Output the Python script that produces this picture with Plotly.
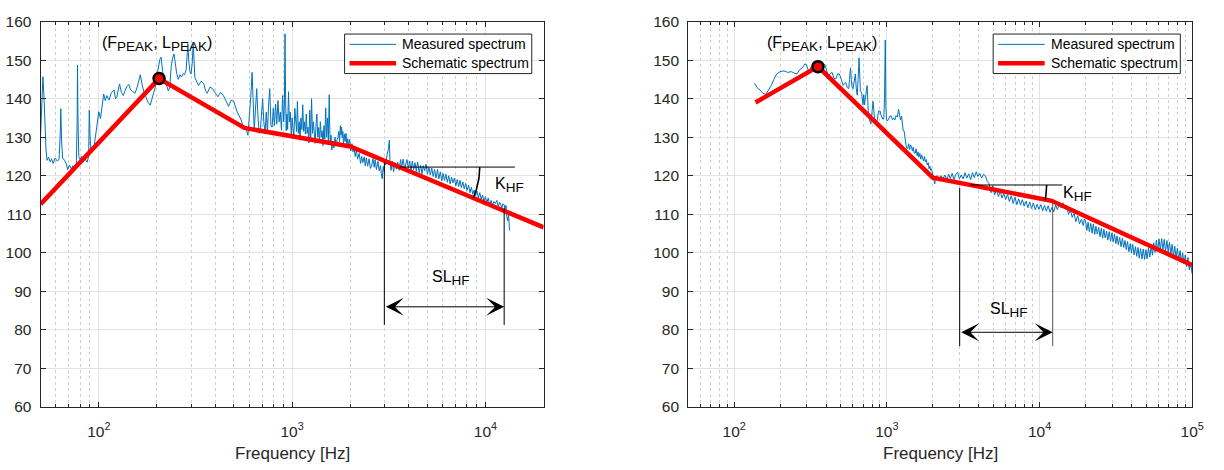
import numpy as np
import plotly.graph_objects as go

# ---------------- data ----------------
# Left panel: measured spectrum (Hz, dB)
left_meas_f = [50, 51, 51.4, 52, 52.6, 53.3, 54, 55, 56, 57, 58, 59.5, 61, 62.3, 63.2, 63.6, 64.2, 65, 66.5, 68,
               69, 70.5, 72, 73.5, 75, 76.5, 77.3, 77.6, 78, 78.8, 80, 81.5, 83, 85, 87, 88.6, 89.3, 90, 91, 92.5,
               94, 96, 98, 100, 102, 104, 106, 108, 110, 113, 116, 120, 122, 124, 126, 128, 131, 134, 137, 140,
               143, 146, 150, 154, 158, 161, 164, 167, 170.6, 175, 180, 184.5, 188, 192, 196, 200, 203, 207, 210, 214,
               218, 222, 225, 229, 233, 237, 241, 245, 249, 253, 258, 263, 268, 273, 278, 283, 287, 289, 292, 296,
               300, 304, 308, 311, 314, 320, 328, 338, 349, 356, 364, 376, 388, 400, 413, 426, 440, 455, 469, 484,
               499, 520, 543, 555, 567, 580, 591, 597, 604, 612, 621, 629, 637, 646, 656, 665, 675, 684, 694, 704,
               714, 725, 735, 745, 755, 766, 777, 788, 799, 810, 821, 833, 845, 857, 869, 881, 893, 905, 912, 919,
               925, 932, 940, 948, 958, 968, 979, 990, 1000, 1010, 1021, 1033, 1045, 1055, 1065, 1077, 1088, 1100, 1111, 1123,
               1135, 1147, 1159, 1172, 1184, 1196, 1208, 1221, 1234, 1248, 1261, 1274, 1288, 1301, 1315, 1329, 1343, 1357, 1371, 1385,
               1400, 1415, 1430, 1445, 1461, 1476, 1492, 1508, 1524, 1540, 1556, 1566, 1576, 1590, 1605, 1623, 1645, 1667, 1690, 1710,
               1729, 1745, 1760, 1777, 1790, 1803, 1818, 1830, 1845, 1865, 1880, 1900, 1920, 1940, 1962, 1985, 2010, 2040, 2065, 2090,
               2120, 2150, 2180, 2225, 2260, 2290, 2321, 2360, 2390, 2421, 2460, 2500, 2540, 2577, 2620, 2660, 2690, 2730, 2780, 2820,
               2865, 2895, 2926, 2960, 3000, 3020, 3051, 3100, 3150, 3183, 3210, 3250, 3300, 3350, 3400, 3462, 3520, 3580, 3640, 3687,
               3750, 3820, 3880, 3929, 3990, 4060, 4120, 4186, 4250, 4320, 4390, 4460, 4540, 4620, 4700, 4770, 4851, 4930, 5010, 5100,
               5190, 5277, 5370, 5460, 5550, 5650, 5740, 5840, 5940, 6040, 6140, 6244, 6350, 6460, 6570, 6680, 6792, 6910, 7030, 7150,
               7270, 7388, 7510, 7640, 7770, 7900, 8036, 8180, 8320, 8460, 8600, 8741, 8890, 9040, 9200, 9350, 9509, 9670, 9840, 10000,
               10170, 10343, 10520, 10700, 10880, 11060, 11251, 11450, 11650, 11850, 11986, 12150, 12300, 12500, 12640, 12770, 12900, 13040, 13180, 13320]
left_meas_db = [130.5, 140, 145.7, 141, 134, 127, 124, 124.8, 123.6, 124.4, 123.2, 124.6, 123.8, 124.3, 131, 137.4, 129, 124.6, 124, 123,
                121.6, 122.8, 121.8, 122.6, 121.4, 122.2, 135, 148.7, 136, 125, 124.2, 125, 123.6, 124.4, 123.5, 125, 137, 131, 126.5, 127.5,
                126.8, 130, 133, 136.6, 134.8, 138, 141.2, 139.5, 140.8, 139.6, 141.5, 142.2, 140, 140.5, 141.8, 143.8, 141.6, 140.8, 142.2, 143.2,
                143.7, 142.3, 141.8, 141.4, 143, 144.5, 146.2, 144, 142, 140.5, 139, 138.3, 139.8, 141.5, 143, 146, 148, 150.2, 150.75, 147,
                145.4, 144, 143, 142, 143, 148.5, 150.5, 151.6, 149, 146.5, 145, 146.2, 145.6, 146.5, 146.2, 147.5, 152, 154.3, 150, 147,
                146.4, 149, 154.3, 149, 145.5, 144.6, 143.4, 144.5, 143.9, 142.2, 141.4, 143, 142.6, 141.5, 140.5, 141.6, 140.9, 139.4, 138, 139.6,
                139.3, 136.5, 134.7, 133.2, 132.6, 131.8, 130.5, 133, 136, 141, 146.8, 138, 131.7, 137, 142.6, 136, 131, 131.3, 135.5, 140,
                134, 131, 136.5, 131, 138, 142.6, 133, 132.6, 137.5, 133, 138.6, 133.4, 139.5, 134, 136.5, 131.8, 140.8, 134, 138, 156.8,
                141, 131.7, 136, 132, 141.8, 134, 136.5, 130.3, 135, 131, 130, 137.5, 133, 131.5, 139.3, 131, 134, 129.2, 135, 132,
                138.4, 131.5, 134, 130.8, 136, 131, 132.6, 128.5, 137, 130, 140, 131, 134, 129.4, 128.4, 133, 136, 130, 132.5, 129,
                134, 130, 131.7, 127.8, 133, 129.5, 137.6, 130, 135, 129, 141, 132, 128, 130.5, 126.7, 129, 127.2, 130, 127.8, 129.4,
                130, 131.5, 128.8, 133, 130.6, 132.6, 129.8, 131.5, 128.4, 130.8, 128.9, 131, 127.6, 129.6, 127.8, 129.4, 126.4, 128.3, 126.2, 127.4,
                125, 126.8, 124.3, 125.8, 123.2, 125, 123.4, 124.9, 122.6, 124.6, 122.5, 124.4, 121.9, 122.5, 124.5, 122.2, 124.2, 121.6, 123.7, 121.3,
                122.6, 120.5, 119.2, 122.4, 121, 124, 122.8, 125.5, 127, 129.2, 123.6, 121.4, 123.8, 121, 123.4, 121.7, 123.5, 121.4, 124.2, 122.3,
                124.3, 121.9, 123.6, 124.2, 122, 123.8, 121.2, 123.8, 121.6, 123.4, 121.1, 123.6, 120.8, 122.7, 120.5, 122.6, 121.3, 123, 120.4, 122.2,
                120.2, 122, 119.8, 121.6, 119.4, 121.6, 119.2, 121, 118.7, 120.6, 118.8, 120.4, 118.3, 120, 117.9, 119.6, 118.2, 119.4, 117.4, 119,
                117.2, 118.8, 116.9, 118.4, 116.6, 118, 116.2, 117.6, 115.6, 117, 115.2, 116.3, 114.8, 116, 114.2, 115.6, 113.9, 115, 113.3, 114.6,
                113, 114.2, 112.4, 113.6, 112.2, 113.3, 112.8, 113.6, 112.1, 113.1, 112.6, 111.5, 112.7, 112.5, 110.6, 112.3, 109.5, 108.3, 110, 105.8]

# Left panel: schematic spectrum
left_sch_f = [50, 205, 567, 2000, 20000]
left_sch_db = [112.6, 145.2, 132.4, 127.6, 106.6]
left_peak_f, left_peak_db = [205], [145.2]

# Right panel: measured spectrum
right_meas_f = [136, 142, 148, 154, 161, 168, 175, 182, 190, 200, 212, 224, 237, 248, 258, 269, 280, 290, 297, 304,
                310, 320, 331, 340, 350, 360, 370, 381, 392, 403, 414, 426, 438, 450, 463, 476, 489, 503, 518, 528,
                538, 550, 563, 570, 578, 585, 592, 601, 611, 622, 631, 640, 648, 654, 658, 662, 671, 684, 698, 706,
                715, 728, 743, 755, 770, 786, 800, 812, 822, 830, 846, 863, 883, 903, 920, 940, 955, 966, 973, 977,
                981, 986, 995, 1010, 1030, 1049, 1068, 1090, 1111, 1129, 1150, 1172, 1194, 1210, 1228, 1248, 1265, 1280, 1297, 1315,
                1335, 1352, 1372, 1390, 1410, 1430, 1450, 1470, 1490, 1510, 1534, 1555, 1580, 1600, 1622, 1645, 1668, 1690, 1715, 1740,
                1763, 1790, 1813, 1840, 1870, 1890, 1916, 1940, 1960, 1991, 2020, 2060, 2090, 2142, 2200, 2260, 2329, 2400, 2470, 2540,
                2603, 2680, 2750, 2830, 2908, 2990, 3070, 3163, 3250, 3340, 3439, 3540, 3640, 3740, 3850, 3950, 4066, 4180, 4300, 4421,
                4550, 4680, 4806, 4940, 5080, 5230, 5380, 5530, 5680, 5840, 6000, 6170, 6350, 6530, 6720, 6910, 7100, 7300, 7510, 7720,
                7930, 8160, 8390, 8630, 8870, 9120, 9380, 9650, 9910, 10200, 10490, 10780, 11080, 11390, 11720, 12050, 12390, 12740, 13100, 13470,
                13840, 14230, 14630, 15050, 15480, 15920, 16370, 16830, 17300, 17790, 18290, 18810, 19340, 19650,
                20000, 20400, 20800, 21200, 21650, 22100, 22500, 23000, 23400, 23900, 24400, 24900, 25400, 25900, 26400, 26900,
                27500, 28000, 28600, 29200, 29800, 30400, 31000, 31600, 32200, 32800, 33500, 34200, 34900, 35600, 36300, 37000,
                37700, 38500, 39300, 40000, 40800, 41600, 42500, 43300, 44200, 45000, 45900, 46900, 47800, 48800, 49700, 50700,
                51700, 52800, 53800, 54900, 56000, 57100, 58300, 59400, 60600, 61800, 63100, 64300, 65600, 66900, 68300, 69600,
                71000, 72500, 73900, 75400, 76900, 78400, 80000, 81600, 83300, 84900, 86600, 88400, 90100, 91900, 93800, 95700,
                97600, 100000]
right_meas_db = [144, 142.8, 142.2, 141.4, 141.1, 142.2, 143.4, 145, 146.4, 147, 147.2, 146.8, 147, 146.6, 146.4, 147.5, 148, 149, 148.9, 147.6,
                 147.2, 148.3, 148.6, 148.2, 148, 147.4, 147.2, 148.4, 148.9, 147.4, 146, 146.5, 146.8, 145.3, 145.1, 146.4, 146.4, 145, 143.4, 144,
                 144.2, 142.9, 142.6, 145, 148, 145, 143, 142.6, 144.5, 146.4, 142.5, 140.9, 145, 149, 150.6, 148, 142, 141.5, 138.4, 141,
                 138.4, 141, 143.4, 137, 134.5, 133.4, 136, 139.3, 137, 135, 134.2, 134.2, 136.8, 136.8, 135.5, 134.7, 134.7, 140, 150, 155.2,
                 148, 138, 134.5, 134.2, 135, 135.5, 135.5, 134.5, 135, 134.5, 135.6, 135.2, 137.2, 136, 134.5, 135.5, 133.5, 131.7, 131.7, 129.5,
                 128, 127.1, 127.1, 128.3, 126.8, 128, 127.6, 126.4, 127.4, 125.9, 125.9, 127, 125.2, 126.2, 124.8, 125.8, 124.3, 125.4, 124.6, 123.8,
                 125, 123.6, 124.2, 122.8, 123.4, 121.8, 122.5, 121.4, 121.8, 120.9, 119.5, 117.9, 119.8, 120, 118.6, 120, 119.2, 120.2, 118.8, 120.4,
                 119.3, 120.6, 119, 120.4, 120.9, 119.2, 120.2, 119.2, 120.8, 119.4, 120.5, 119, 120.8, 119.5, 121, 119.8, 120.6, 119.4, 120.4, 120,
                 118.5, 117.9, 115.6, 117.4, 115, 116.4, 114.6, 116, 114.2, 115.4, 113.8, 115.2, 113.3, 114.8, 112.8, 114.4, 112.5, 114, 112.4, 113.8,
                 112.1, 113.4, 111.7, 113.2, 111.5, 112.9, 111.2, 112.6, 111.3, 112.5, 110.9, 112.3, 110.8, 112.2, 110.5, 111.8, 110.6, 112.4, 111.2, 112.8,
                 111.7, 113, 111.4, 112.3, 110, 111.2, 109.2, 110.2, 108.1, 109.6, 107.5, 108.7, 107.1, 108.8,
                 108.3, 105.8, 107.9, 105.5, 107.6, 105.1, 107.5, 104.8, 106.9, 104.9, 106.6, 104.2, 106.4, 103.8, 106.1, 103.9,
                 105.6, 103.3, 105.5, 103.0, 105.2, 102.8, 104.9, 102.4, 104.4, 102.1, 104.0, 101.6, 103.8, 101.4, 103.2, 100.8,
                 102.9, 100.3, 102.4, 99.9, 102.2, 99.5, 101.6, 99.1, 101.4, 98.6, 101.1, 98.4, 101.0, 98.3, 100.8, 98.5,
                 101.3, 98.9, 101.9, 99.4, 102.6, 100.1, 103.3, 100.6, 103.6, 100.9, 103.7, 100.8, 103.5, 100.5, 103.2, 100.1,
                 102.7, 99.7, 102.2, 99.2, 101.7, 98.6, 101.2, 98.1, 100.6, 97.6, 100.0, 97.1, 99.5, 96.4, 98.8, 95.6,
                 97.5, 94.5]

# Right panel: schematic spectrum
right_sch_f = [138, 354, 2000, 12000, 100000]
right_sch_db = [139.0, 148.3, 119.5, 113.5, 96.8]
right_peak_f, right_peak_db = [354], [148.3]

# Annotation geometry
left_khf_y, left_khf_end = 122.25, 14200
left_sl_f = [3000, 12500]
left_sl_top = [123.5, 111.5]
left_sl_bottom = 81.3
left_arrow_y = 86

right_khf_y, right_khf_end = 117.6, 14100
right_sl_f = [3000, 12200]
right_sl_top = [116.9, 113.3]
right_sl_bottom = 75.8
right_arrow_y = 79.4

legend_labels = ["Measured spectrum", "Schematic spectrum"]

y_ticks = list(range(60, 161, 10))
x_tick_vals = [100, 1000, 10000, 100000]
x_tick_text = ["10<sup>2</sup>", "10<sup>3</sup>", "10<sup>4</sup>", "10<sup>5</sup>"]

# ---------------- layout geometry ----------------
W, H = 1224, 470
L_PX = (41, 549)
R_PX = (695, 1204)
TOP, BOT = 13, 413
left_xr = (50, 20000)
right_xr = (50, 100000)

FONT = "Liberation Sans, Arial, Helvetica, sans-serif"
AXC = "#262626"
BLUE = "#0072BD"
RED = "#FF0000"
TICK_SIZE = 15.5

fig = go.Figure()
shapes = []
ann = []


def minor_vals(lo, hi):
    out = []
    for d in range(1, 6):
        for k in range(2, 10):
            v = k * 10 ** d
            if lo <= v <= hi:
                out.append(v)
    return out


def add_panel(xa, ya, meas_f, meas_db, sch_f, sch_db, pk_f, pk_db):
    fig.add_trace(go.Scatter(x=meas_f, y=meas_db, mode="lines", name=legend_labels[0], showlegend=False,
                             line=dict(color=BLUE, width=1), xaxis=xa, yaxis=ya))
    fig.add_trace(go.Scatter(x=sch_f, y=sch_db, mode="lines", name=legend_labels[1], showlegend=False,
                             line=dict(color=RED, width=4.5), xaxis=xa, yaxis=ya))
    fig.add_trace(go.Scatter(x=pk_f, y=pk_db, mode="markers", showlegend=False,
                             marker=dict(size=11, color=RED, line=dict(color="black", width=2.5)),
                             xaxis=xa, yaxis=ya))


def black_line(xa, ya, xs, ys, color="black", width=1):
    fig.add_trace(go.Scatter(x=xs, y=ys, mode="lines", showlegend=False, hoverinfo="skip",
                             line=dict(color=color, width=width), xaxis=xa, yaxis=ya))


def seg_slope(fs, ds, f):
    lf = np.log10(fs)
    i = np.searchsorted(lf, np.log10(f)) - 1
    return (ds[i + 1] - ds[i]) / (lf[i + 1] - lf[i]), lf[i], ds[i]


def khf(xa, ya, sch_f, sch_db, y_h, f_end, xr, px_w, r_px):
    slope, l0, d0 = seg_slope(sch_f, sch_db, f_end / 4)
    lc = l0 + (y_h - d0) / slope
    black_line(xa, ya, [10 ** lc, f_end], [y_h, y_h])
    px_dec = px_w / (np.log10(xr[1]) - np.log10(xr[0]))
    px_db = (BOT - TOP) / 100.0
    ang = np.arctan(-slope * px_db / px_dec)
    t = np.linspace(0, ang, 30)
    lx = lc + r_px * np.cos(t) / px_dec
    yy = y_h - r_px * np.sin(t) / px_db
    black_line(xa, ya, 10 ** lx, yy, width=1.6)


def legend_box(x0):
    shapes.append(dict(type="rect", xref="paper", yref="paper", x0=x0 / W, x1=(x0 + 189) / W,
                       y0=(H - 67) / H, y1=(H - 26) / H, line=dict(color=AXC, width=1), fillcolor="white",
                       layer="above"))
    for yy, col, wd, txt in [(36.7, BLUE, 1, legend_labels[0]), (56.3, RED, 4.7, legend_labels[1])]:
        shapes.append(dict(type="line", xref="paper", yref="paper", x0=(x0 + 5) / W, x1=(x0 + 52) / W,
                           y0=(H - yy) / H, y1=(H - yy) / H, line=dict(color=col, width=wd), layer="above"))
        ann.append(dict(x=(x0 + 56) / W, y=(H - yy) / H, xref="paper", yref="paper", text=txt,
                        showarrow=False, xanchor="left", yanchor="middle",
                        font=dict(family=FONT, size=14, color="black")))


add_panel("x", "y", left_meas_f, left_meas_db, left_sch_f, left_sch_db, left_peak_f, left_peak_db)
add_panel("x2", "y2", right_meas_f, right_meas_db, right_sch_f, right_sch_db, right_peak_f, right_peak_db)

khf("x", "y", left_sch_f, left_sch_db, left_khf_y, left_khf_end, left_xr, L_PX[1] - L_PX[0], 81)
khf("x2", "y2", right_sch_f, right_sch_db, right_khf_y, right_khf_end, right_xr, R_PX[1] - R_PX[0], 77)

for f, t in zip(left_sl_f, left_sl_top):
    black_line("x", "y", [f, f], [t, left_sl_bottom])
for f, t, c in zip(right_sl_f, right_sl_top, ["black", "#555555"]):
    black_line("x2", "y2", [f, f], [t, right_sl_bottom], c)


def arrow(xref, yref, f0, f1, y):
    ann.append(dict(x=np.log10(f1), y=y, ax=np.log10(f0), ay=y, xref=xref, yref=yref, axref=xref, ayref=yref,
                    text="", showarrow=True, arrowhead=3, startarrowhead=3, arrowside="end+start",
                    arrowsize=3, startarrowsize=3, arrowwidth=1, arrowcolor="black",
                    standoff=0, startstandoff=0))


def sub(main, s):
    return main + "<sub><span style='font-size:13.5px'>" + s + "</span></sub>"


def label(xref, yref, f, y, text, size=16):
    ann.append(dict(x=np.log10(f), y=y, xref=xref, yref=yref, text=text, showarrow=False,
                    font=dict(family=FONT, size=size, color="black"), xanchor="center", yanchor="middle"))


arrow("x", "y", left_sl_f[0], left_sl_f[1], left_arrow_y)
arrow("x2", "y2", right_sl_f[0], right_sl_f[1], right_arrow_y)

peak_txt = "(" + sub("F", "PEAK") + ", " + sub("L", "PEAK") + ")"
label("x", "y", 201, 154.2, peak_txt)
label("x2", "y2", 374, 154.2, peak_txt)
label("x", "y", 13300, 117.6, sub("K", "HF"))
label("x2", "y2", 17700, 115.2, sub("K", "HF"))
label("x", "y", 6650, 93.5, sub("SL", "HF"))
label("x2", "y2", 6350, 85.2, sub("SL", "HF"))

legend_box(348)
legend_box(1003)

for px in (L_PX, R_PX):
    ann.append(dict(x=(px[0] + px[1]) / 2 / W, y=(H - 461) / H, xref="paper", yref="paper",
                    text="Frequency [Hz]", showarrow=False, xanchor="center", yanchor="middle",
                    font=dict(family=FONT, size=17, color=AXC)))


def xaxis_cfg(px, xr, anchor):
    return dict(type="log", domain=[px[0] / W, px[1] / W], range=[np.log10(xr[0]), np.log10(xr[1])],
                anchor=anchor, showline=True, linecolor=AXC, linewidth=1, mirror="ticks",
                ticks="inside", ticklen=5, tickcolor=AXC, tickmode="array",
                tickvals=[v for v in x_tick_vals if xr[0] <= v <= xr[1]],
                ticktext=[t for v, t in zip(x_tick_vals, x_tick_text) if xr[0] <= v <= xr[1]],
                tickfont=dict(family=FONT, size=TICK_SIZE, color=AXC), ticklabelstandoff=10,
                showgrid=True, gridcolor="#e3e3e3", gridwidth=1, zeroline=False,
                minor=dict(tickmode="array", tickvals=minor_vals(xr[0], xr[1]), ticks="inside", ticklen=3,
                           tickcolor=AXC, showgrid=True, gridcolor="#d0d0d0", griddash="dot", gridwidth=1))


def yaxis_cfg(anchor):
    return dict(domain=[(H - BOT) / H, (H - TOP) / H], range=[60, 160], anchor=anchor,
                showline=True, linecolor=AXC, linewidth=1, mirror="ticks", ticks="inside", ticklen=5,
                tickcolor=AXC, tickmode="array", tickvals=y_ticks,
                tickfont=dict(family=FONT, size=TICK_SIZE, color=AXC), ticklabelstandoff=5,
                showgrid=True, gridcolor="#e3e3e3", gridwidth=1, zeroline=False)


fig.update_layout(
    width=W, height=H, autosize=False,
    margin=dict(l=0, r=0, t=0, b=0),
    paper_bgcolor="white", plot_bgcolor="white",
    font=dict(family=FONT, color=AXC),
    xaxis=xaxis_cfg(L_PX, left_xr, "y"),
    yaxis=yaxis_cfg("x"),
    xaxis2=xaxis_cfg(R_PX, right_xr, "y2"),
    yaxis2=yaxis_cfg("x2"),
    annotations=ann,
    shapes=shapes,
    showlegend=False,
)

fig.write_html("out.html")
